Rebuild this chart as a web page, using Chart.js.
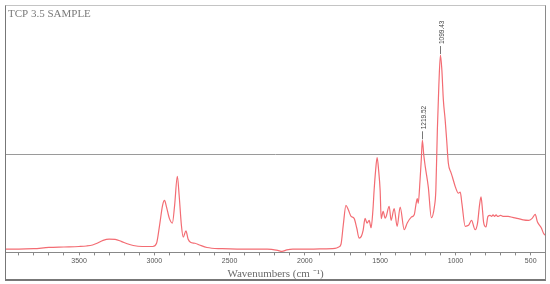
<!DOCTYPE html>
<html>
<head>
<meta charset="utf-8">
<script src="https://cdn.jsdelivr.net/npm/chart.js@4.4.1/dist/chart.umd.min.js"></script>
<style>
  html, body { margin: 0; padding: 0; background: #fff; }
  body { width: 550px; height: 284px; position: relative; overflow: hidden; }
  .frame {
    position: absolute; left: 5px; top: 5px; width: 541px; height: 276px;
    box-sizing: border-box;
    border-top: 1px solid #c4c4c4; border-left: 1px solid #777;
    border-right: 1px solid #8a8a8a; border-bottom: 2px solid #777;
  }
  .frame canvas { position: absolute; left: 0; top: 0; }
</style>
</head>
<body>
<div class="frame">
  <canvas id="irChart" width="539" height="273"></canvas>
</div>
<script>
// spectrum (wavenumber cm-1 / relative absorbance)
const wavenumbers = [
  3985, 3900, 3800, 3700, 3600, 3500, 3450, 3410, 3380, 3340, 3300, 3260, 3220, 3180, 3140, 3080, 3010,
  2985, 2965, 2945, 2932, 2920, 2900, 2880, 2865, 2847, 2835, 2820, 2808, 2790, 2775, 2760, 2730, 2700,
  2650, 2550, 2450, 2350, 2250, 2180, 2152, 2120, 2080, 2000, 1900, 1800, 1775, 1760, 1745, 1727, 1710,
  1693, 1673, 1655, 1640, 1625, 1613, 1600, 1587, 1573, 1560, 1548, 1540, 1530, 1520, 1510, 1500, 1493,
  1480, 1467, 1460, 1440, 1427, 1407, 1387, 1367, 1340, 1320, 1293, 1273, 1262, 1253, 1247, 1235, 1227,
  1219.52, 1210, 1200, 1180, 1160, 1140, 1130, 1120, 1110, 1099.43, 1090, 1080, 1068, 1058, 1047, 1030,
  1020, 1000, 980, 968, 957, 935, 913, 893, 869, 853, 840, 830, 820, 813, 797, 784, 770, 760, 750, 740,
  730, 720, 700, 680, 650, 620, 581, 550, 514, 492, 470, 455, 430, 415, 405
];
const absorbance = [
  1.3, 1.3, 1.5, 2.0, 2.2, 2.4, 2.6, 3.0, 3.7, 4.9, 5.4, 5.3, 4.5, 3.5, 2.8, 2.4, 2.4,
  3.7, 11, 19.1, 21.1, 18.7, 13.8, 11.9, 19.1, 30.9, 23.2, 11, 6.2, 8.7, 5.3, 4.1, 3.7, 3.0,
  2.0, 1.5, 1.3, 1.3, 1.3, 0.8, 0.4, 1.0, 1.3, 1.3, 1.4, 1.6, 2.2, 3.3, 11, 19.1, 17.1,
  14.6, 13.8, 9.8, 5.8, 6.5, 8.9, 13.8, 11.9, 13.0, 10.0, 17.1, 25.2, 33.3, 38.5, 33.3, 25.2, 13.7,
  16.7, 13.9, 14.6, 18.7, 13.0, 17.8, 10.6, 18.4, 9.2, 11.9, 14.3, 15.4, 19.5, 21.8, 19.9, 29.3, 37.4,
  45.5, 39.4, 34.7, 26.5, 14.1, 18.4, 25.2, 49.6, 67.9, 80.1, 74, 61.8, 53.7, 45.5, 36.2, 32.5,
  30.6, 26.5, 24, 24.5, 19.9, 10.6, 11, 13, 9.2, 11.9, 19.1, 22.5, 17.1, 12.3, 10.3, 14.6, 15, 14.6, 15.2, 14.6,
  15.2, 14.6, 15, 14.6, 14.6, 14.2, 13.7, 13.2, 13, 13.7, 15.4, 12.3, 10, 7.8, 7.0
];
const peakLabels = [1219.52, 1099.43];
const tickLabels = [3500, 3000, 2500, 2000, 1500, 1000, 500];
const sampleName = 'TCP 3.5 SAMPLE';
const axisTitle = 'Wavenumbers (cm \u207B\u00B9)';
const dividerLevel = 40;

const points = wavenumbers.map((wn, i) => ({ x: wn, y: absorbance[i] }));

const spectrumExtras = {
    id: 'spectrumExtras',
    beforeDatasetsDraw(chart) {
        const { ctx, scales } = chart;
        const y = Math.round(scales.y.getPixelForValue(dividerLevel)) + 0.5;
        ctx.save();
        ctx.strokeStyle = '#9a9a9a';
        ctx.lineWidth = 1;
        ctx.beginPath();
        ctx.moveTo(0, y);
        ctx.lineTo(chart.width, y);
        ctx.stroke();
        ctx.restore();
    },
    afterDatasetsDraw(chart) {
        const { ctx, scales } = chart;
        ctx.save();
        // sample name
        ctx.fillStyle = '#7a7a7a';
        ctx.font = '11px "Liberation Serif", serif';
        ctx.textBaseline = 'middle';
        ctx.textAlign = 'left';
        ctx.fillText(sampleName, 2, 8);
        // peak markers
        peakLabels.forEach(wn => {
            const idx = wavenumbers.indexOf(wn);
            const px = Math.round(scales.x.getPixelForValue(wn)) + 0.5;
            const py = scales.y.getPixelForValue(absorbance[idx]);
            ctx.strokeStyle = '#777';
            ctx.lineWidth = 1;
            ctx.beginPath();
            ctx.moveTo(px, py - 1);
            ctx.lineTo(px, py - 9);
            ctx.stroke();
            ctx.save();
            ctx.translate(px + 2, py - 11);
            ctx.rotate(-Math.PI / 2);
            ctx.fillStyle = '#444';
            ctx.font = '6.5px "Liberation Sans", Arial, sans-serif';
            ctx.textAlign = 'left';
            ctx.textBaseline = 'middle';
            ctx.fillText(wn.toFixed(2), 0, 0);
            ctx.restore();
        });
        ctx.restore();
    }
};

const ctx = document.getElementById('irChart').getContext('2d');
new Chart(ctx, {
    type: 'line',
    data: {
        datasets: [{
            label: sampleName,
            data: points,
            borderColor: 'rgb(243, 108, 115)',
            borderWidth: 1.2,
            pointRadius: 0,
            tension: 0.35,
            cubicInterpolationMode: 'monotone',
            fill: false
        }]
    },
    options: {
        responsive: false,
        animation: false,
        layout: { padding: { left: -2, right: 0, top: 0, bottom: -2 } },
        plugins: {
            legend: { display: false },
            tooltip: { enabled: false }
        },
        scales: {
            x: {
                type: 'linear',
                reverse: true,
                min: 405,
                max: 3985,
                afterBuildTicks: axis => {
                    const ticks = [];
                    for (let v = 3900; v >= 500; v -= 100) ticks.push({ value: v });
                    axis.ticks = ticks;
                },
                border: { display: true, color: '#888', width: 1 },
                grid: { drawOnChartArea: false, drawTicks: true, tickLength: 3, color: '#888' },
                ticks: {
                    autoSkip: false,
                    maxRotation: 0,
                    padding: 1,
                    color: '#555',
                    font: { size: 7, family: '"Liberation Sans", Arial, sans-serif' },
                    callback: v => tickLabels.includes(v) ? String(v) : ''
                },
                title: {
                    display: true,
                    text: axisTitle,
                    color: '#6a6a6a',
                    font: { size: 11, family: '"Liberation Serif", serif' },
                    padding: { top: 2, bottom: 0 }
                }
            },
            y: {
                display: false,
                min: 0,
                max: 100
            }
        }
    },
    plugins: [spectrumExtras]
});
</script>
</body>
</html>
